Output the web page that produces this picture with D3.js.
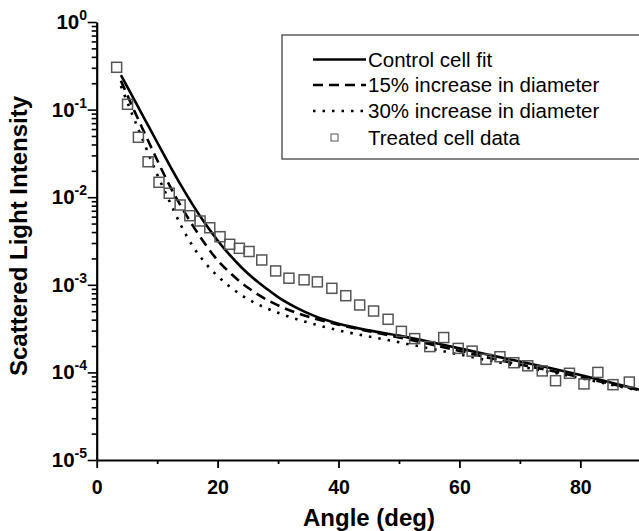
<!DOCTYPE html>
<html>
<head>
<meta charset="utf-8">
<script src="https://cdn.jsdelivr.net/npm/d3@7"></script>
<style>
  body { margin: 0; background: #fff; }
  svg { display: block; font-family: "Liberation Sans", Arial, sans-serif; }
</style>
</head>
<body>
<svg id="chart" width="639" height="531"></svg>
<script>
// treated cell data (squares)
const dataAngles = [3.3, 5.1, 6.9, 8.5, 10.3, 12.0, 13.8, 15.4, 17.1, 18.7, 20.4, 22.0, 23.6, 25.2, 27.3,
  29.6, 31.8, 34.3, 36.5, 38.9, 41.2, 43.5, 45.8, 48.2, 50.4, 52.6, 55.1, 57.4, 59.8, 62.1,
  64.4, 66.7, 69.0, 71.3, 73.7, 75.9, 78.2, 80.6, 82.9, 85.4, 88.1]
const treated = [0.304, 0.115, 0.0483, 0.0254, 0.0148, 0.0111, 0.00815, 0.00615, 0.00535, 0.00448,
  0.00354, 0.0029, 0.00261, 0.0024, 0.00192, 0.00144, 0.00119, 0.00114, 0.00108, 0.000912,
  0.000751, 0.000588, 0.000502, 0.000404, 0.000294, 0.000243, 0.000197, 0.00025, 0.000188, 0.000175,
  0.000141, 0.000151, 0.000129, 0.000119, 0.000104, 8.04e-5, 9.77e-5, 7.38e-5, 1.0e-4, 7.24e-5, 7.76e-5]

// fit curves
const fitAngles = [4, 6, 8, 10, 12, 14, 16, 18, 20, 22, 24, 26, 28, 30, 33, 36, 40, 45, 50, 55, 60, 65, 70, 75, 80, 85, 90]
const controlFit = [0.248, 0.1377, 0.0764, 0.0424, 0.0236, 0.01346, 0.00796, 0.00493, 0.00321, 0.00219,
  0.001567, 0.001172, 0.000914, 0.000724, 0.00055, 0.000442, 0.000359, 0.000302, 0.000263, 0.000224,
  0.000188, 0.000158, 0.000133, 0.000112, 9.33e-5, 7.67e-5, 6.31e-5]
const inc15 = [0.2138, 0.1047, 0.0525, 0.0266, 0.0138, 0.00776, 0.00462, 0.00288, 0.001905, 0.00138,
  0.001047, 0.000832, 0.000684, 0.000582, 0.000479, 0.000412, 0.000351, 0.000295, 0.000251, 0.000211,
  0.000176, 0.000146, 0.000123, 0.000105, 8.81e-5, 7.41e-5, 6.24e-5]
const inc30 = [0.1862, 0.0841, 0.0389, 0.0182, 0.00912, 0.00468, 0.00269, 0.00176, 0.00126, 0.000955,
  0.000759, 0.000631, 0.000543, 0.000479, 0.000407, 0.000355, 0.000302, 0.000257, 0.000221, 0.000188,
  0.00016, 0.000136, 0.000117, 0.000101, 8.61e-5, 7.24e-5, 6.17e-5]

// ticks + labels
const xTicks = [0, 20, 40, 60, 80]
const xMinor = [10, 30, 50, 70, 90]
const yTicks = [1, 1e-1, 1e-2, 1e-3, 1e-4, 1e-5]
const legendLabels = ['Control cell fit', '15% increase in diameter', '30% increase in diameter', 'Treated cell data']

const svg = d3.select('#chart')

let x = d3.scaleLinear().domain([0, 90]).range([96.7, 640.8])
let y = d3.scaleLog().domain([1e-5, 1]).range([460, 22])

// minor y ticks 2..9 per decade
let yMinor = []
for (let k = -5; k < 0; k++) {
  for (let m = 2; m <= 9; m++) yMinor.push(m * Math.pow(10, k))
}

// x axis
let gx = svg.append('g').attr('transform', 'translate(0,460)')
gx.call(d3.axisBottom(x).tickValues(xTicks).tickSize(8).tickSizeOuter(0).tickFormat(d3.format('d')))
gx.append('g').call(d3.axisBottom(x).tickValues(xMinor).tickSize(4).tickFormat(''))
  .select('.domain').remove()
gx.selectAll('.domain').attr('stroke', '#000').attr('stroke-width', 2.2)
gx.selectAll('.tick line').attr('stroke', '#000').attr('stroke-width', 1.8)
gx.selectAll('.tick text')
  .attr('y', 34).attr('dy', 0)
  .attr('fill', '#000')
  .style('font-size', '19.5px').style('font-weight', 'bold')

// y axis
let gy = svg.append('g').attr('transform', 'translate(96.7,0)')
gy.call(d3.axisLeft(y).tickValues(yTicks).tickSize(9).tickSizeOuter(0).tickFormat(''))
gy.append('g').call(d3.axisLeft(y).tickValues(yMinor).tickSize(5).tickFormat(''))
  .select('.domain').remove()
gy.selectAll('.domain').attr('stroke', '#000').attr('stroke-width', 2.2)
gy.selectAll('.tick line').attr('stroke', '#000').attr('stroke-width', 1.6)

// y tick labels with superscript exponents
let yLab = svg.append('g')
yTicks.forEach(v => {
  let t = yLab.append('text')
    .attr('x', 87).attr('y', y(v) + 7)
    .attr('text-anchor', 'end')
    .style('font-weight', 'bold')
  t.append('tspan').text('10').style('font-size', '20.5px')
  t.append('tspan').text(Math.round(Math.log10(v))).attr('dy', -9).style('font-size', '14px')
})

// axis titles
svg.append('text')
  .attr('x', 369).attr('y', 526)
  .attr('text-anchor', 'middle')
  .style('font-size', '24px').style('font-weight', 'bold')
  .text('Angle (deg)')

svg.append('text')
  .attr('transform', 'translate(27,236) rotate(-90)')
  .attr('text-anchor', 'middle')
  .style('font-size', '24px').style('font-weight', 'bold')
  .text('Scattered Light Intensity')

// curves
let line = d3.line()
  .x(d => x(d[0]))
  .y(d => y(d[1]))
  .curve(d3.curveMonotoneX)

const series = [
  { vals: controlFit, dash: null },
  { vals: inc15, dash: '10,6' },
  { vals: inc30, dash: '2.5,7' }
]

let plot = svg.append('g')
series.forEach(s => {
  plot.append('path')
    .datum(fitAngles.map((a, i) => [a, s.vals[i]]))
    .attr('d', line)
    .attr('fill', 'none')
    .attr('stroke', '#000')
    .attr('stroke-width', 2.6)
    .attr('stroke-dasharray', s.dash)
})

// treated data squares
plot.selectAll('rect.pt')
  .data(dataAngles.map((a, i) => [a, treated[i]]))
  .join('rect')
  .attr('class', 'pt')
  .attr('x', d => x(d[0]) - 5)
  .attr('y', d => y(d[1]) - 5)
  .attr('width', 10)
  .attr('height', 10)
  .attr('fill', 'none')
  .attr('stroke', '#555')
  .attr('stroke-width', 1.5)

// legend
let leg = svg.append('g')
leg.append('rect')
  .attr('x', 282).attr('y', 35)
  .attr('width', 400).attr('height', 124)
  .attr('fill', '#fff')
  .attr('stroke', '#333')
  .attr('stroke-width', 1.2)

const rowY = [59.5, 85, 111, 137.5]
series.forEach((s, i) => {
  leg.append('line')
    .attr('x1', 313).attr('x2', 366)
    .attr('y1', rowY[i]).attr('y2', rowY[i])
    .attr('stroke', '#000')
    .attr('stroke-width', 2.4)
    .attr('stroke-dasharray', s.dash)
})
leg.append('rect')
  .attr('x', 331).attr('y', rowY[3] - 3.5)
  .attr('width', 7).attr('height', 7)
  .attr('fill', 'none')
  .attr('stroke', '#555')
  .attr('stroke-width', 1)

legendLabels.forEach((lab, i) => {
  leg.append('text')
    .attr('x', 368).attr('y', rowY[i] + 7)
    .style('font-size', '20.5px')
    .text(lab)
})
</script>
</body>
</html>
